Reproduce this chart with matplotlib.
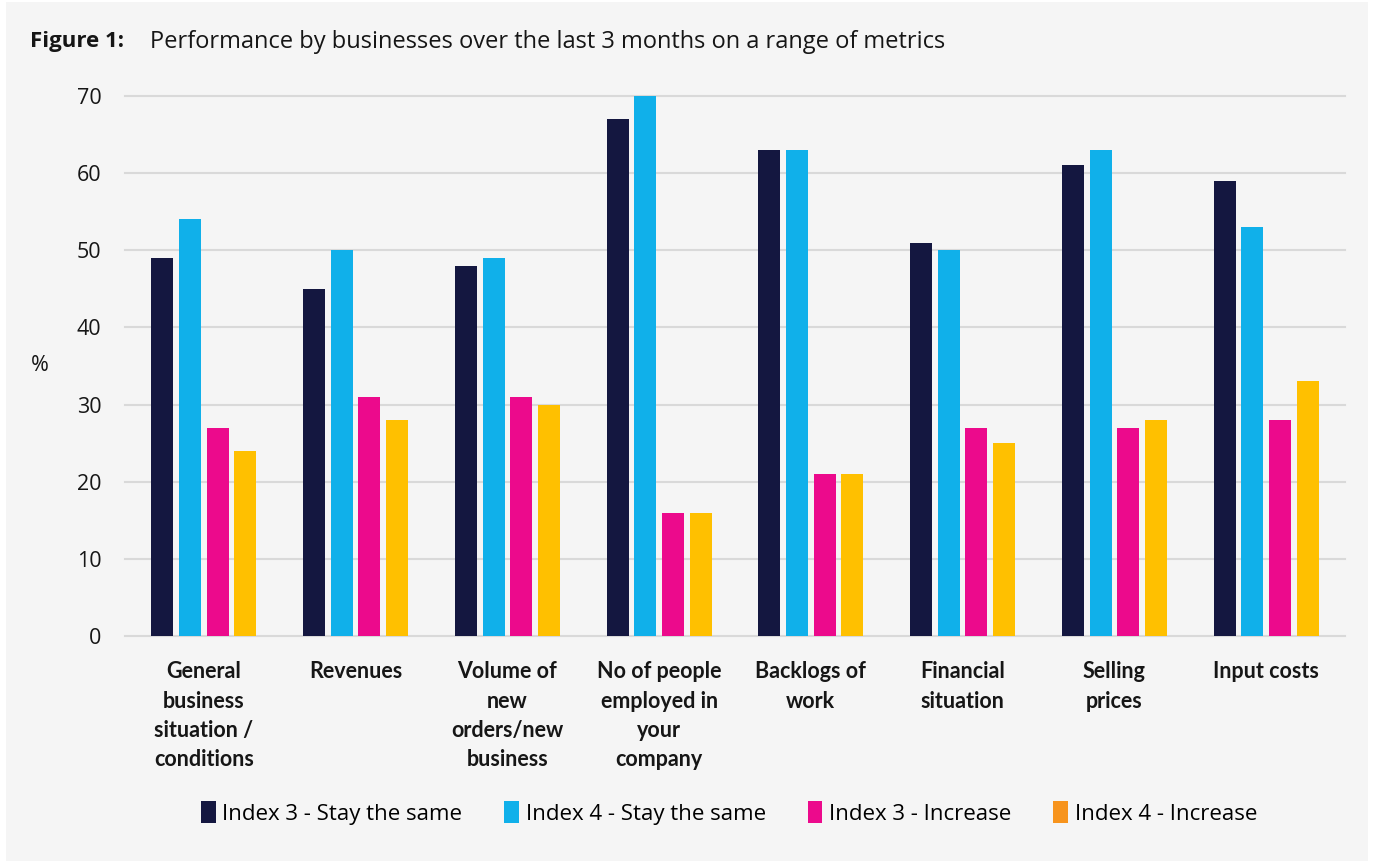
import matplotlib.pyplot as plt
from matplotlib.patches import Patch
import numpy as np

plt.rcParams['font.family'] = ['Open Sans', 'DejaVu Sans']

categories = ['General\nbusiness\nsituation /\nconditions', 'Revenues',
              'Volume of\nnew\norders/new\nbusiness',
              'No of people\nemployed in\nyour\ncompany',
              'Backlogs of\nwork', 'Financial\nsituation', 'Selling\nprices',
              'Input costs']
series = ['Index 3 - Stay the same', 'Index 4 - Stay the same',
          'Index 3 - Increase', 'Index 4 - Increase']
idx3_same = [49, 45, 48, 67, 63, 51, 61, 59]
idx4_same = [54, 50, 49, 70, 63, 50, 63, 53]
idx3_inc = [27, 31, 31, 16, 21, 27, 27, 28]
idx4_inc = [24, 28, 30, 16, 21, 25, 28, 33]

bar_colors = ['#141740', '#10B0EA', '#EC0A8C', '#FFC000']
legend_colors = ['#141740', '#10B0EA', '#EC0A8C', '#F7941D']
bg = '#F5F5F5'
ink = '#161616'

fig = plt.figure(figsize=(13.81, 8.61), dpi=100)
fig.patch.set_facecolor('white')
# grey panel behind everything
fig.patches.append(plt.Rectangle((6 / 1381, 0), 1362 / 1381, 859 / 861,
                                 transform=fig.transFigure, facecolor=bg,
                                 edgecolor='none', zorder=-10))

ax = fig.add_axes([125 / 1381, 1 - 636 / 861, 1220 / 1381, 540 / 861])
ax.set_facecolor(bg)

x = np.arange(len(categories))
step, width = 0.182, 0.145
for i, vals in enumerate([idx3_same, idx4_same, idx3_inc, idx4_inc]):
    ax.bar(x + (i - 1.5) * step, vals, width, color=bar_colors[i], zorder=3)

ax.set_xlim(-0.52, len(categories) - 0.48)
ax.set_ylim(0, 70)
ax.set_yticks(range(0, 71, 10))
ax.grid(axis='y', color='#D9D9D9', linewidth=1.5, zorder=0)
for gl in ax.get_ygridlines():
    gl.set_clip_on(False)
for s in ax.spines.values():
    s.set_visible(False)
ax.tick_params(axis='y', length=0, pad=17, labelsize=15.5, labelcolor=ink)
ax.tick_params(axis='x', length=0, pad=18)
ax.set_xticks(x)
ax.set_xticklabels(categories, fontsize=15.5, fontweight='bold',
                   family=['Lato', 'DejaVu Sans'],
                   linespacing=1.5, va='top', color=ink)

fig.text(40 / 1381, 1 - 365 / 861, '%', fontsize=15.5, va='center',
         ha='center', color=ink)

fig.text(30 / 1381, 1 - 42 / 861, 'Figure 1:', fontsize=16, fontweight='bold',
         va='center', color=ink)
fig.text(150 / 1381, 1 - 42 / 861,
         'Performance by businesses over the last 3 months on a range of metrics',
         fontsize=17, va='center', color=ink)

handles = [Patch(facecolor=c, edgecolor='none') for c in legend_colors]
fig.legend(handles, series, loc='center', bbox_to_anchor=(729 / 1381, 1 - 813 / 861),
           ncol=4, frameon=False, fontsize=16, handlelength=0.65,
           handleheight=1.1, handletextpad=0.3, columnspacing=1.9)

fig.savefig('out.png', dpi=100, facecolor=fig.get_facecolor())
